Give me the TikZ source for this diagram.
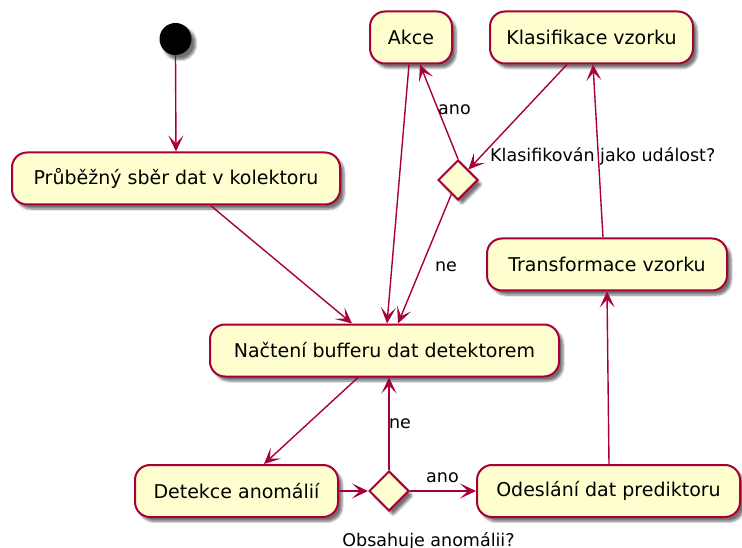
\documentclass[tikz,border=0pt]{standalone}
\usepackage{fontspec}
\setmainfont{DejaVu Sans}
\usetikzlibrary{arrows.meta,shapes.geometric,shadows.blur}

\definecolor{umlborder}{HTML}{A80036}
\definecolor{umlfill}{HTML}{FEFECE}

\tikzset{
  shade3/.style={blur shadow={shadow xshift=4pt, shadow yshift=-4.5pt,
      shadow blur steps=6, shadow blur extra rounding=2pt, shadow opacity=55}},
  activity/.style={draw=umlborder, fill=umlfill, line width=2pt,
      rounded corners=15pt, minimum height=52pt, inner sep=0pt,
      font=\fontsize{19}{22}\selectfont, shade3},
  choice/.style={diamond, draw=umlborder, fill=umlfill, line width=2pt,
      minimum width=40pt, minimum height=40pt, inner sep=0pt, shade3},
  startdot/.style={circle, fill=black, minimum size=32pt, inner sep=0pt, shade3},
  flow/.style={draw=umlborder, line width=1.4pt,
      -{Stealth[length=16pt, width=15pt, inset=8pt]}},
  guard/.style={font=\fontsize{17.5}{20}\selectfont, anchor=base, inner sep=0pt}
}

\begin{document}
\begin{tikzpicture}[x=1pt, y=-1pt]
  \useasboundingbox (0,0) rectangle (742,548);

  % start node and activities
  \node[startdot] (start) at (175.5,39) {};
  \node[activity, minimum width=328pt] (collect) at (176,178.5) {Průběžný sběr dat v kolektoru};
  \node[activity, minimum width=82pt]  (action)  at (411,37.5)  {Akce};
  \node[activity, minimum width=203pt] (classify) at (591.5,37.5) {Klasifikace vzorku};
  \node[activity, minimum width=240pt] (transform) at (607,264.5) {Transformace vzorku};
  \node[activity, minimum width=349pt] (load) at (384.5,350.5) {Načtení bufferu dat detektorem};
  \node[activity, minimum width=203pt] (detect) at (236.5,491) {Detekce anomálií};
  \node[activity, minimum width=263pt] (send) at (608.5,491) {Odeslání dat prediktoru};

  % decisions
  \node[choice] (isevent) at (458,180) {};
  \node[choice] (anomaly) at (389,491) {};

  % decision captions
  \node[guard, anchor=base west] (isevtxt) at (490,162) {Klasifikován jako událost?};
  \node[guard] (anomtxt) at (428.5,546) {Obsahuje anomálii?};

  % control flow
  \draw[flow] (start.south) -- (collect.north);
  \draw[flow] (collect.-38.6) -- ([xshift=-32.5pt]load.north);
  \draw[flow] ([xshift=-2pt]action.south) -- ([xshift=2.5pt]load.north);
  \draw[flow] (isevent.north) -- ([xshift=9pt]action.south);
  \draw[flow] ([xshift=-24.5pt]classify.south) -- (isevent.north east);
  \draw[flow] (isevent.-115) -- ([xshift=13.5pt]load.north);
  \draw[flow] ([xshift=-4pt]transform.north) -- ([xshift=1.5pt]classify.south);
  \draw[flow] ([xshift=-26.5pt]load.south) -- ([xshift=27.5pt]detect.north);
  \draw[flow] (detect.east) -- (anomaly.west);
  \draw[flow] (anomaly.north) -- ([xshift=4.5pt]load.south);
  \draw[flow] (anomaly.east) -- (send.west);
  \draw[flow] ([xshift=0.5pt]send.north) -- (transform.south);

  % branch labels
  \node[guard] (yes1) at (454.5,115) {ano};
  \node[guard] (no1) at (446,272) {ne};
  \node[guard] (no2) at (400,428) {ne};
  \node[guard] (yes2) at (442.5,482) {ano};
\end{tikzpicture}
\end{document}
